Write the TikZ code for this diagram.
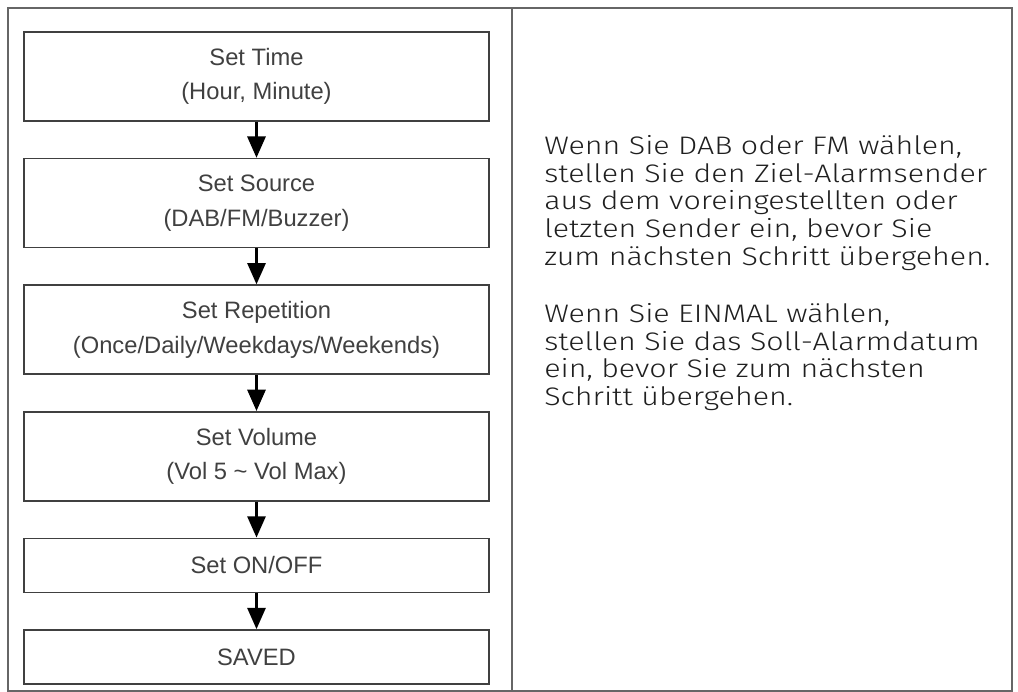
\documentclass[tikz,border=0pt]{standalone}
\usepackage{fontspec}
\setmainfont{Liberation Sans}
\newfontfamily\notefont[FakeStretch=1.2]{Fira Sans Light}
\usetikzlibrary{positioning,arrows.meta}
\begin{document}
\begin{tikzpicture}
    [x=0.75pt,y=-0.75pt,
     stagebox/.style={draw=black!75,line width=1.2pt,minimum width=348.75pt,minimum height=66.75pt,
        align=center,text=black!75,font=\fontsize{17.8}{26}\selectfont},
     flatbox/.style={stagebox,minimum height=40.5pt},
     stagearrow/.style={-{Triangle[width=13.5pt,length=16pt]},line width=2.2pt,black},
     notetext/.style={anchor=north west,inner sep=0pt,align=left,text=black!88,
        font=\notefont\fontsize{19}{20.8}\selectfont},
     frame/.style={draw=black!60,line width=1.1pt},
     node distance=27pt]
    \useasboundingbox (0,0) rectangle (1018,692);
    % table frame
    \draw[frame] (8,8) rectangle (1012,691);
    \draw[frame] (512,8) -- (512,691);
    % steps
    \node[stagebox] (time) at (256.5,76.5) {Set Time\\(Hour, Minute)};
    \node[stagebox,below=of time] (source) {Set Source\\(DAB/FM/Buzzer)};
    \node[stagebox,below=of source] (repeat) {Set Repetition\\(Once/Daily/Weekdays/Weekends)};
    \node[stagebox,below=of repeat] (volume) {Set Volume\\(Vol 5 \textasciitilde{} Vol Max)};
    \node[flatbox,below=of volume] (onoff) {Set ON/OFF};
    \node[flatbox,below=of onoff] (saved) {SAVED};
    \foreach \a/\b in {time/source,source/repeat,repeat/volume,volume/onoff,onoff/saved}
        \draw[stagearrow] (\a) -- (\b);
    % notes
    \node[notetext] (dabnote) at (544,135) {Wenn Sie DAB oder FM wählen,\\stellen Sie den Ziel-Alarmsender\\aus dem voreingestellten oder\\letzten Sender ein, bevor Sie\\zum nächsten Schritt übergehen.};
    \node[notetext] (oncenote) at (544,303) {Wenn Sie EINMAL wählen,\\stellen Sie das Soll-Alarmdatum\\ein, bevor Sie zum nächsten\\Schritt übergehen.};
\end{tikzpicture}
\end{document}
